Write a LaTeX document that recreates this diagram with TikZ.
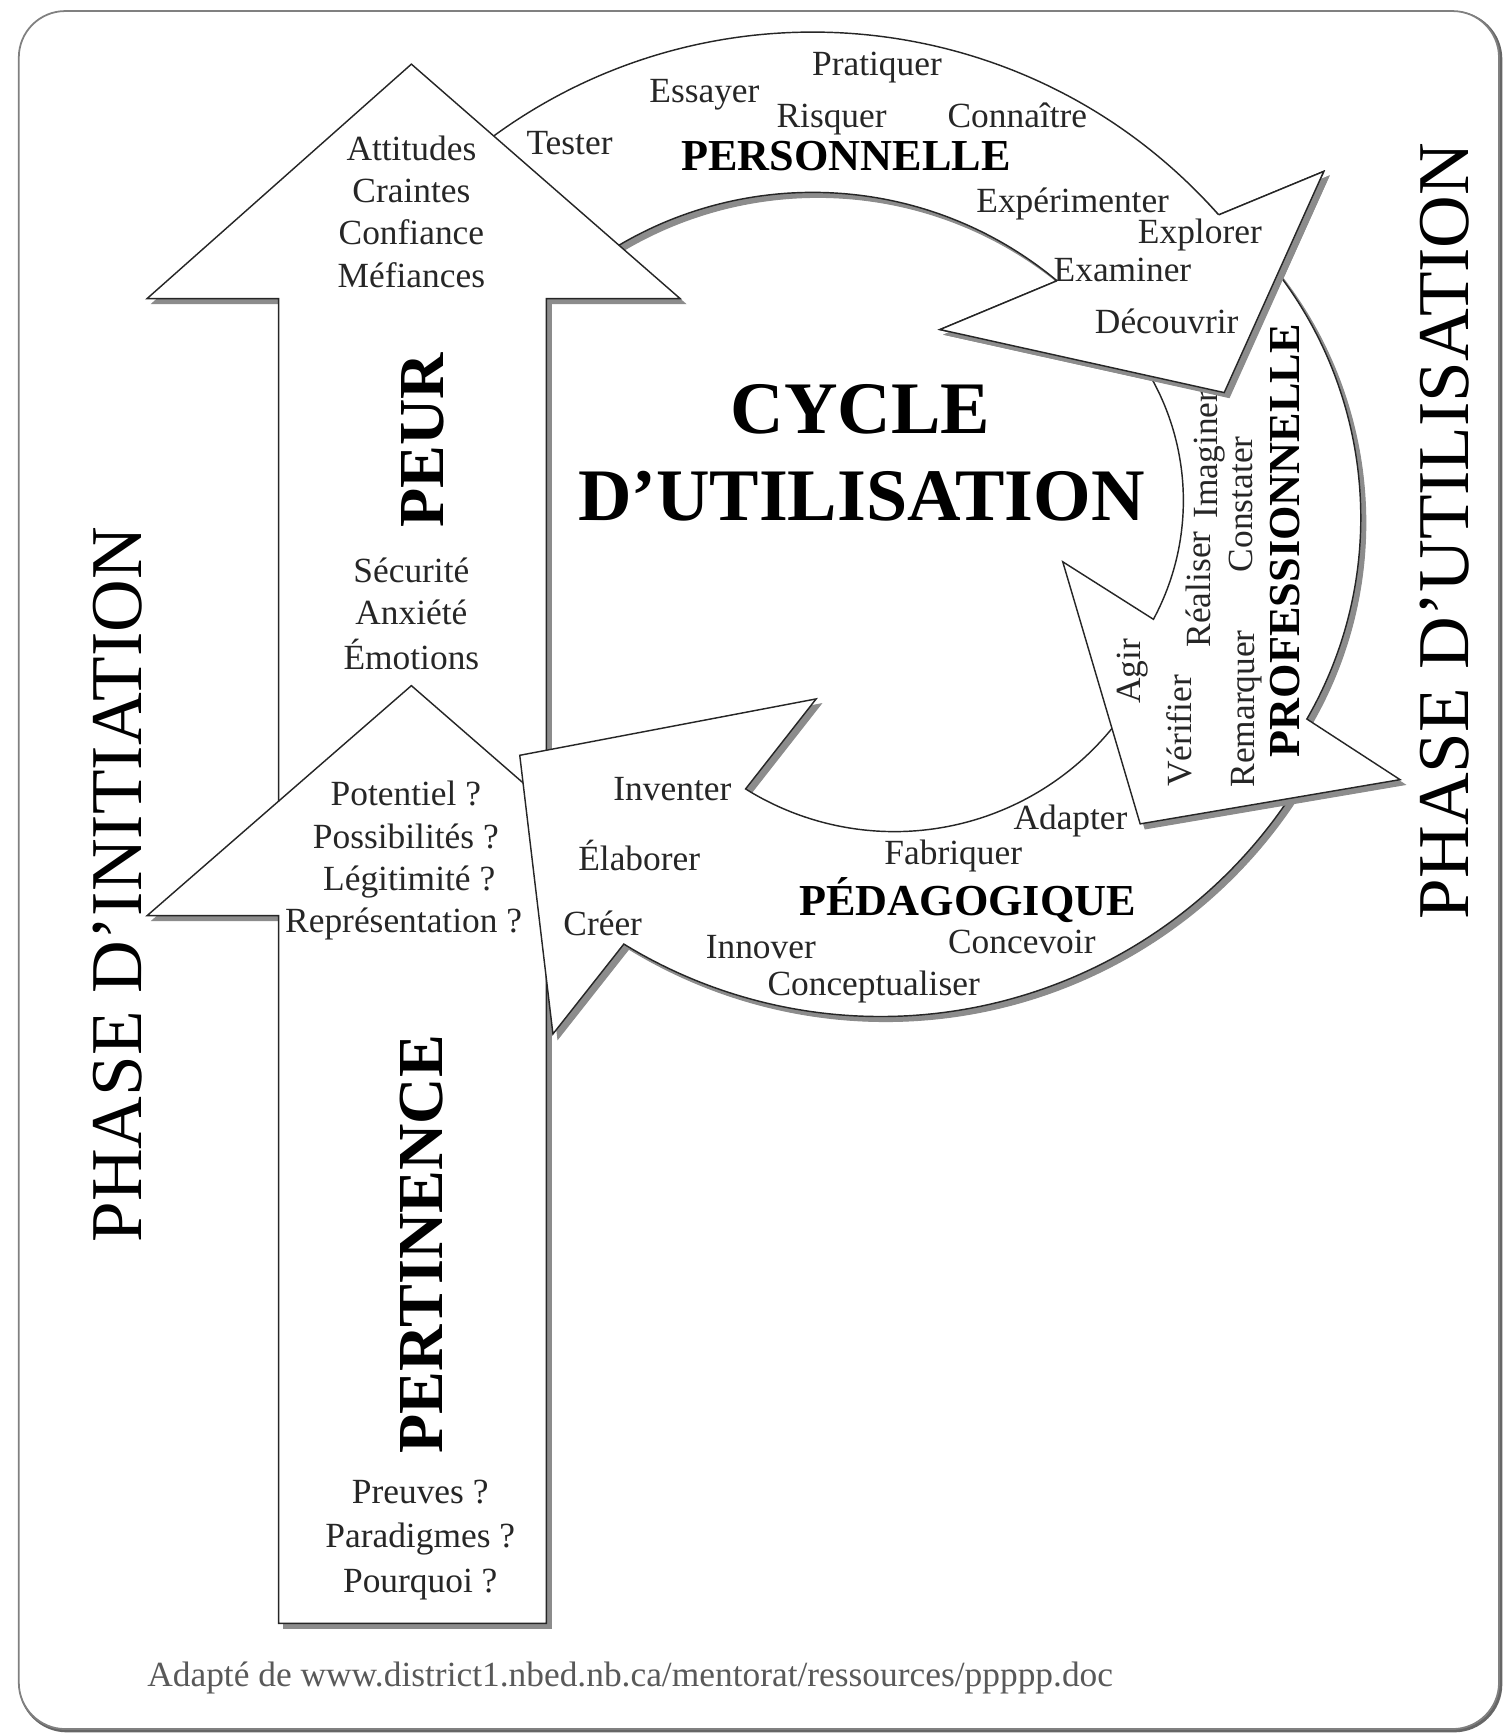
\documentclass[tikz,border=0pt]{standalone}
\usepackage{fontspec}
\setmainfont{Liberation Serif}
\begin{document}
\begin{tikzpicture}[x=1pt,y=1pt,
  wordtxt/.style={font=\fontsize{32pt}{38pt}\selectfont, text=black!85, inner sep=0pt, anchor=base},
  labeltxt/.style={font=\fontsize{40pt}{46pt}\selectfont\bfseries, inner sep=0pt, anchor=base},
  stagetxt/.style={font=\fontsize{58pt}{64pt}\selectfont\bfseries, inner sep=0pt, anchor=base},
  phasetxt/.style={font=\fontsize{66pt}{72pt}\selectfont, inner sep=0pt, anchor=base},
  titletxt/.style={font=\fontsize{67pt}{74pt}\selectfont\bfseries, inner sep=0pt, anchor=base},
  arrowbody/.style={fill=white, draw=black!85, line width=1.3pt, line join=miter},
  headfill/.style={fill=white, draw=none},
  edgeline/.style={draw=black!85, line width=1.3pt, line join=miter},
  dropshadow/.style={fill=black!45, draw=black!45, line width=1pt},
]
\useasboundingbox (0,0) rectangle (1360,-1568);
\fill[white] (0,0) rectangle (1360,-1568);
% frame
\draw[black!60, line width=3pt, rounded corners=42pt] (18.5,-11.5) rectangle (1357,-1565);
\draw[black!50, fill=white, line width=1.6pt, rounded corners=42pt] (17,-10) rectangle (1355.5,-1563.5);

\def\PersPath{(420.04,-143.64) arc[start angle=130,end angle=41.5,radius=490] -- (1197,-155) -- (1107,-355) -- (850,-298) -- (955.8,-253.9) arc[start angle=50.2,end angle=130,radius=345] -- cycle}
\def\PersHead{(1102,-194.3) -- (1197,-155) -- (1107,-355) -- (850,-298) -- (955.8,-253.9)}
\def\VertPath{(372,-58) -- (615,-270) -- (494,-270) -- (494,-1468) -- (252,-1468) -- (252,-828) -- (133,-828) -- (252,-724.4) -- (252,-270) -- (133,-270) -- cycle}
\def\PedaPath{(1181.3,-696.95) arc[start angle=-30,end angle=-121.5,radius=444.5] -- (500,-935) -- (470,-683) -- (738,-632) -- (674.2,-713.4) arc[start angle=-122,end angle=-20,radius=254] -- cycle}
\def\ProfPath{(1123.9,-210.8) arc[start angle=45,end angle=-30,radius=364] -- (1266,-705) -- (1031,-745) -- (961,-508) -- (1043,-560) arc[start angle=-28.3,end angle=40,radius=226.5] -- cycle}

% personnelle arrow (first pass)
\begin{scope}[shift={(4.5,-4.5)}]
  \fill[dropshadow] \PersPath;
\end{scope}
\path[arrowbody] \PersPath;

% vertical arrow
\begin{scope}[shift={(4.5,-4.5)}]
  \fill[dropshadow] \VertPath;
\end{scope}
\path[arrowbody] \VertPath;
\draw[edgeline] (252,-724.4) -- (372,-620) -- (494,-726.2);

% pedagogique arrow
\begin{scope}[shift={(4.5,-4.5)}]
  \fill[dropshadow] \PedaPath;
\end{scope}
\path[arrowbody] \PedaPath;

% professionnelle arrow
\begin{scope}[shift={(4.5,-4.5)}]
  \fill[dropshadow] \ProfPath;
\end{scope}
\path[arrowbody] \ProfPath;

% professionnelle words
\node[wordtxt, rotate=90] (imaginer) at (1101,-411) {Imaginer};
\node[wordtxt, rotate=90] (constater) at (1133,-456) {Constater};
\node[wordtxt, rotate=90] (realiser) at (1095,-533) {Réaliser};
\node[wordtxt, rotate=90] (remarquer) at (1134,-641) {Remarquer};
\node[wordtxt, rotate=90] (verifier) at (1077,-661) {Vérifier};
\node[wordtxt, rotate=90] (agir) at (1031,-607) {Agir};
\node[labeltxt, rotate=90] (professionnelle) at (1175,-489) {PROFESSIONNELLE};

% personnelle head on top
\begin{scope}[shift={(4.5,-4.5)}]
  \fill[dropshadow] \PersHead -- cycle;
\end{scope}
\fill[headfill] \PersHead -- cycle;
\draw[edgeline] \PersHead;

% vertical arrow words
\node[wordtxt] (attitudes) at (372,-145) {Attitudes};
\node[wordtxt] (craintes) at (372,-183) {Craintes};
\node[wordtxt] (confiance) at (372,-221) {Confiance};
\node[wordtxt] (mefiances) at (372,-260) {Méfiances};
\node[stagetxt, rotate=90] (peur) at (401,-398) {PEUR};
\node[wordtxt] (securite) at (372,-527) {Sécurité};
\node[wordtxt] (anxiete) at (372,-565) {Anxiété};
\node[wordtxt] (emotions) at (372,-605) {Émotions};
\node[wordtxt] (potentiel) at (367,-728) {Potentiel ?};
\node[wordtxt] (possibilites) at (367,-767) {Possibilités ?};
\node[wordtxt] (legitimite) at (370,-805) {Légitimité ?};
\node[wordtxt] (representation) at (365,-843) {Représentation ?};
\node[stagetxt, rotate=90] (pertinence) at (400,-1125) {PERTINENCE};
\node[wordtxt] (preuves) at (380,-1360) {Preuves ?};
\node[wordtxt] (paradigmes) at (380,-1399) {Paradigmes ?};
\node[wordtxt] (pourquoi) at (380,-1440) {Pourquoi ?};

% personnelle words
\node[wordtxt] (pratiquer) at (793,-68) {Pratiquer};
\node[wordtxt] (essayer) at (637,-93) {Essayer};
\node[wordtxt] (risquer) at (752,-115) {Risquer};
\node[wordtxt] (connaitre) at (920,-115) {Connaître};
\node[wordtxt] (tester) at (515,-140) {Tester};
\node[labeltxt] (personnelle) at (765,-154) {PERSONNELLE};
\node[wordtxt] (experimenter) at (970,-192) {Expérimenter};
\node[wordtxt] (explorer) at (1085,-220) {Explorer};
\node[wordtxt] (examiner) at (1015,-255) {Examiner};
\node[wordtxt] (decouvrir) at (1055,-302) {Découvrir};

% pedagogique words
\node[wordtxt] (inventer) at (608,-724) {Inventer};
\node[wordtxt] (elaborer) at (578,-787) {Élaborer};
\node[wordtxt] (creer) at (545,-846) {Créer};
\node[wordtxt] (innover) at (688,-867) {Innover};
\node[wordtxt] (conceptualiser) at (790,-900) {Conceptualiser};
\node[wordtxt] (fabriquer) at (862,-782) {Fabriquer};
\node[labeltxt] (pedagogique) at (875,-828) {PÉDAGOGIQUE};
\node[wordtxt] (concevoir) at (924,-862) {Concevoir};
\node[wordtxt] (adapter) at (968,-750) {Adapter};

% titles
\node[titletxt] (cycle) at (778,-392) {CYCLE};
\node[titletxt] (dutilisation) at (779,-471) {D’UTILISATION};
\node[phasetxt, rotate=90] (phaseinit) at (128,-800) {PHASE D’INITIATION};
\node[phasetxt, rotate=90] (phaseutil) at (1328,-480) {PHASE D’UTILISATION};

% source
\node[font=\fontsize{32pt}{38pt}\selectfont, text=black!65, inner sep=0pt, anchor=base west] (source) at (133,-1525) {Adapté de www.district1.nbed.nb.ca/mentorat/ressources/ppppp.doc};
\end{tikzpicture}
\end{document}
